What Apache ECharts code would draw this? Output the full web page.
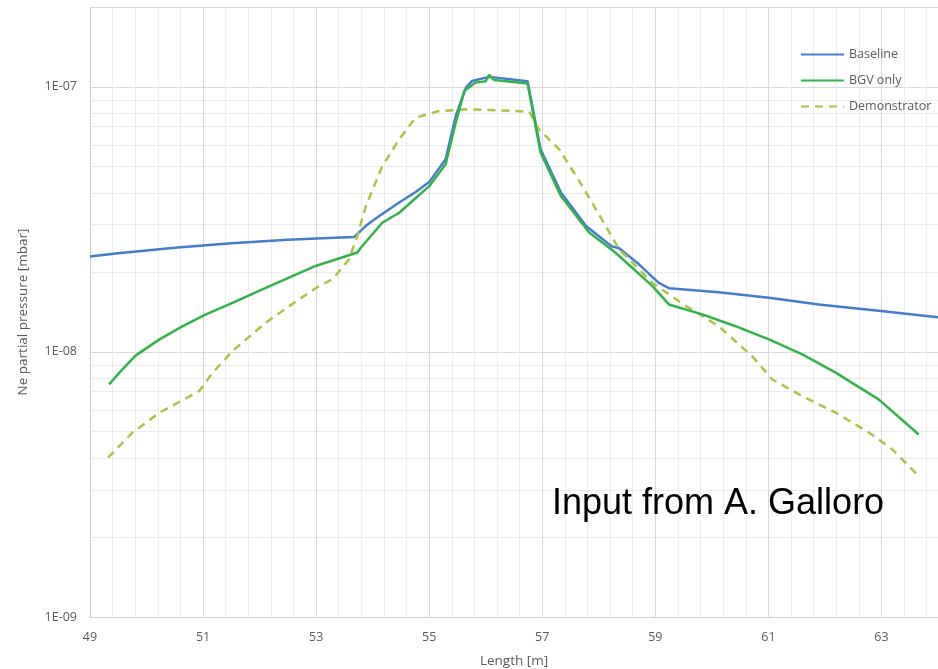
<!DOCTYPE html>
<html>
<head>
<meta charset="utf-8">
<script src="https://cdn.jsdelivr.net/npm/echarts@6/dist/echarts.min.js"></script>
<style>
html,body{margin:0;padding:0;background:#fff;}
#chart{width:938px;height:669px;}
</style>
</head>
<body>
<div id="chart"></div>
<script>
// ---- Data ----
const seriesNames = ['Baseline', 'BGV only', 'Demonstrator'];

const baselineL = [49.0, 49.5, 50.0, 50.5, 51.0, 51.5, 52.0, 52.5, 53.0, 53.67, 53.88, 54.11, 54.47, 54.76, 55.0, 55.29, 55.47, 55.65, 55.76, 56.06, 56.74, 56.97, 57.33, 57.77, 58.23, 58.36, 58.71, 59.06, 59.24, 60.12, 61.01, 61.89, 62.95, 64.0];
const baselineP = [2.29e-8, 2.355e-8, 2.415e-8, 2.47e-8, 2.52e-8, 2.57e-8, 2.61e-8, 2.65e-8, 2.68e-8, 2.71e-8, 2.99e-8, 3.25e-8, 3.66e-8, 4.01e-8, 4.37e-8, 5.33e-8, 7.76e-8, 9.93e-8, 1.052e-7, 1.09e-7, 1.05e-7, 5.81e-8, 3.99e-8, 2.99e-8, 2.50e-8, 2.46e-8, 2.14e-8, 1.82e-8, 1.74e-8, 1.68e-8, 1.60e-8, 1.51e-8, 1.43e-8, 1.35e-8];

const bgvL = [49.34, 49.52, 49.81, 50.23, 50.64, 51.05, 51.52, 51.99, 52.46, 52.99, 53.73, 53.79, 54.17, 54.47, 55.0, 55.29, 55.47, 55.62, 55.82, 56.0, 56.06, 56.15, 56.74, 56.97, 57.33, 57.83, 58.24, 58.36, 58.95, 59.24, 59.83, 60.42, 61.01, 61.6, 62.19, 62.95, 63.66];
const bgvP = [7.54e-9, 8.35e-9, 9.70e-9, 1.115e-8, 1.25e-8, 1.385e-8, 1.53e-8, 1.70e-8, 1.88e-8, 2.11e-8, 2.37e-8, 2.47e-8, 3.07e-8, 3.35e-8, 4.22e-8, 5.10e-8, 7.33e-8, 9.64e-8, 1.037e-7, 1.05e-7, 1.11e-7, 1.06e-7, 1.03e-7, 5.65e-8, 3.87e-8, 2.82e-8, 2.42e-8, 2.30e-8, 1.77e-8, 1.51e-8, 1.385e-8, 1.25e-8, 1.115e-8, 9.79e-9, 8.35e-9, 6.62e-9, 4.88e-9];

const demoL = [49.32, 49.75, 50.23, 50.93, 51.17, 51.52, 52.11, 52.7, 53.05, 53.29, 53.58, 53.73, 53.88, 54.17, 54.47, 54.76, 55.17, 55.65, 56.24, 56.77, 56.94, 57.3, 57.71, 58.12, 58.36, 58.95, 59.54, 60.12, 60.71, 61.07, 61.6, 62.19, 62.78, 63.19, 63.66];
const demoP = [3.99e-9, 4.96e-9, 5.90e-9, 7.11e-9, 8.35e-9, 1.007e-8, 1.29e-8, 1.58e-8, 1.77e-8, 1.88e-8, 2.23e-8, 2.74e-8, 3.55e-8, 5.02e-8, 6.34e-8, 7.65e-8, 8.10e-8, 8.22e-8, 8.15e-8, 8.06e-8, 6.91e-8, 5.81e-8, 4.22e-8, 2.99e-8, 2.44e-8, 1.82e-8, 1.49e-8, 1.25e-8, 9.64e-9, 7.87e-9, 6.81e-9, 5.90e-9, 4.96e-9, 4.29e-9, 3.40e-9];

const xMin = 49, xMax = 64;
const yMin = 1e-9, yMax = 2e-7;
const annotation = 'Input from A. Galloro';

// ---- helpers ----
const zip = (xs, ys) => xs.map((x, i) => [x, ys[i]]);
const MAJ = '#d9d9d9', MIN = '#ececec';

// gridlines (not data): vertical every 0.4 m, darker at odd metres; horizontal minor log lines
const gridLinesMinor = [];
const gridLinesMajor = [];
for (let k = 1; k * 0.4 < (xMax - xMin); k++) {
  const v = Math.round((xMin + k * 0.4) * 10) / 10;
  if (k % 5 === 0) gridLinesMajor.push({ xAxis: v }); else gridLinesMinor.push({ xAxis: v });
}
// minor log gridlines expressed on a hidden linear axis in log10 units
[-9, -8].forEach(d => { for (let m = 2; m <= 9; m++) gridLinesMinor.push({ yAxis: d + Math.log10(m) }); });

const labelColor = '#595959';
const fontFam = '"Open Sans", "Noto Sans", sans-serif';

const gridSeries = (name, lines, color, z) => ({
  name, type: 'line', yAxisIndex: 1, data: [[xMin, Math.log10(yMin)]], symbol: 'none', z, silent: true,
  lineStyle: { opacity: 0 }, legendHoverLink: false, tooltip: { show: false },
  markLine: {
    silent: true, symbol: ['none', 'none'], z, label: { show: false },
    lineStyle: { color, width: 1, type: 'solid' }, emphasis: { disabled: true },
    animation: false, data: lines
  }
});

const chart = echarts.init(document.getElementById('chart'), null, { renderer: 'canvas' });
chart.setOption({
  animation: false,
  backgroundColor: '#ffffff',
  textStyle: { fontFamily: fontFam },
  grid: { left: 90, right: 0, top: 7, bottom: 52, containLabel: false, outerBoundsMode: 'none' },
  legend: {
    orient: 'vertical', left: 795, top: 43, itemGap: 13,
    itemWidth: 43, itemHeight: 14,
    data: seriesNames,
    itemStyle: { opacity: 0 },
    textStyle: { color: labelColor, fontSize: 12.5, fontFamily: fontFam }
  },
  xAxis: {
    type: 'value', min: xMin, max: xMax, interval: 1,
    name: 'Length [m]', nameLocation: 'middle', nameGap: 37,
    nameTextStyle: { color: labelColor, fontSize: 13.5, fontFamily: fontFam },
    axisLine: { show: true, lineStyle: { color: '#d0d0d0', width: 1 } },
    axisTick: { show: false },
    axisLabel: {
      color: labelColor, fontSize: 12.5, margin: 14,
      formatter: v => { const r = Math.round(v); return (Math.abs(v - r) < 1e-6 && (r - 49) % 2 === 0) ? String(r) : ''; }
    },
    splitLine: { show: false }
  },
  yAxis: [{
    type: 'log', logBase: 10, min: yMin, max: yMax, interval: 1,
    name: 'Ne partial pressure [mbar]', nameLocation: 'middle', nameGap: 60,
    nameTextStyle: { color: labelColor, fontSize: 13.5, fontFamily: fontFam },
    axisLine: { show: true, lineStyle: { color: '#d0d0d0', width: 1 } },
    axisTick: { show: false },
    axisLabel: {
      color: labelColor, fontSize: 12.5, margin: 13,
      formatter: v => { const e = Math.log10(v); const r = Math.round(e); if (Math.abs(e - r) > 1e-6) return ''; return '1E-' + String(-r).padStart(2, '0'); }
    },
    splitLine: { show: true, lineStyle: { color: MAJ, width: 1 } }
  }, {
    type: 'value', show: false, min: Math.log10(yMin), max: Math.log10(yMax),
    splitLine: { show: false }
  }],
  graphic: [{
    type: 'text', left: 552, top: 486, z: 100,
    style: { text: annotation, fill: '#000000', font: '36px "Liberation Sans", Arial, sans-serif' }
  }],
  series: [
    gridSeries('_gridMinor', gridLinesMinor, MIN, 0),
    gridSeries('_gridMajor', gridLinesMajor, MAJ, 1),
    {
      name: seriesNames[0], type: 'line', data: zip(baselineL, baselineP), symbol: 'none', z: 3,
      lineStyle: { color: '#447cce', width: 2.5 }, itemStyle: { color: '#447cce' }
    },
    {
      name: seriesNames[1], type: 'line', data: zip(bgvL, bgvP), symbol: 'none', z: 4,
      lineStyle: { color: '#33b24a', width: 2.5 }, itemStyle: { color: '#33b24a' }
    },
    {
      name: seriesNames[2], type: 'line', data: zip(demoL, demoP), symbol: 'none', z: 3,
      lineStyle: { color: '#a9c446', width: 2.5, type: [8, 6] }, itemStyle: { color: '#a9c446' }
    }
  ]
});
</script>
</body>
</html>
